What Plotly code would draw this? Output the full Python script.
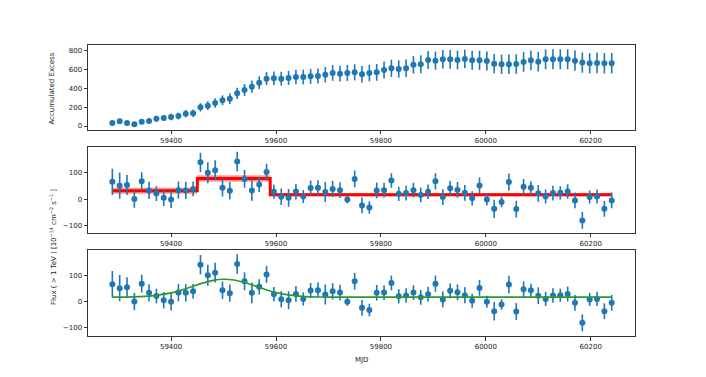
import plotly.graph_objects as go

# ---------------- data ----------------
mjd = [59288, 59302, 59316, 59330, 59344, 59358, 59372, 59386, 59400, 59414,
       59428, 59442, 59456, 59470, 59484, 59498, 59512, 59526, 59540, 59554,
       59568, 59582, 59596, 59610, 59624, 59638, 59652, 59666, 59680, 59694,
       59708, 59722, 59736, 59750, 59764, 59778, 59792, 59806, 59820, 59834,
       59848, 59862, 59876, 59890, 59904, 59918, 59932, 59946, 59960, 59974,
       59988, 60002, 60016, 60030, 60044, 60058, 60072, 60086, 60100, 60114,
       60128, 60142, 60156, 60170, 60184, 60198, 60212, 60226, 60240]

acc_excess = [32, 50, 32, 18, 46, 53, 78, 85, 96, 106,
              131, 135, 198, 216, 244, 273, 290, 347, 382, 418,
              460, 503, 506, 503, 510, 520, 520, 527, 531, 545,
              563, 556, 563, 570, 549, 563, 570, 595, 612, 605,
              612, 651, 655, 701, 694, 708, 708, 701, 712, 697,
              697, 690, 662, 655, 655, 658, 680, 697, 683, 708,
              708, 708, 708, 694, 673, 666, 669, 666, 666]

acc_err = [20, 22, 23, 24, 26, 28, 30, 32, 34, 36,
           38, 40, 45, 47, 50, 52, 55, 60, 62, 65,
           68, 70, 72, 73, 75, 76, 78, 79, 80, 82,
           83, 84, 85, 86, 87, 88, 89, 90, 91, 92,
           93, 94, 95, 96, 97, 98, 99, 100, 100, 101,
           101, 102, 102, 103, 103, 104, 104, 105, 105, 105,
           106, 106, 106, 107, 107, 107, 108, 108, 108]

flux = [66, 51, 54, 0, 68, 33, 21, 5, -1, 34,
        33, 39, 140, 100, 110, 43, 32, 143, 77, 33,
        56, 103, 28, 9, 5, 29, 10, 42, 43, 27,
        39, 34, -1, 77, -24, -32, 33, 34, 71, 20,
        23, 34, 16, 28, 68, 8, 41, 35, 24, 3,
        52, -1, -37, -11, 65, -38, 47, 43, 22, 10,
        23, 24, 29, -5, -81, 8, 10, -37, -5]

flux_err = [50, 50, 38, 33, 34, 33, 28, 31, 33, 33,
            33, 28, 37, 40, 38, 33, 33, 37, 34, 39,
            29, 32, 27, 31, 34, 30, 25, 29, 29, 38,
            31, 30, 15, 32, 30, 24, 30, 28, 28, 27,
            28, 28, 28, 28, 31, 30, 28, 30, 30, 27,
            30, 23, 35, 20, 33, 32, 30, 25, 32, 27,
            28, 25, 28, 30, 32, 25, 27, 30, 30]

# Bayesian-block style segments
block_start = [59288, 59450, 59589]
block_end = [59450, 59589, 60240]
block_value = [32, 79, 17]
block_low = [20, 66, 11]
block_high = [43, 91, 23]

# Fitted model curve
model_mjd = [59288, 59350, 59400, 59430, 59460, 59480, 59500, 59520, 59540,
             59570, 59600, 59650, 59700, 60240]
model_flux = [17, 19.5, 33, 50, 70, 80.5, 85, 82, 72.5, 52.5, 34, 19.5, 17, 17]

xticks = [59400, 59600, 59800, 60000, 60200]
xtick_labels = ["59400", "59600", "59800", "60000", "60200"]

BLUE = "#1f77b4"
FONT = "DejaVu Sans"
TXT = "#222222"

fig = go.Figure()


def points(ya, err, xa, yax):
    return go.Scatter(
        x=mjd, y=ya, mode="markers",
        marker=dict(color=BLUE, size=6),
        error_y=dict(type="data", array=err, visible=True, color=BLUE,
                     thickness=1.6, width=0),
        xaxis=xa, yaxis=yax, showlegend=False)


# top panel
fig.add_trace(points(acc_excess, acc_err, "x", "y"))

# middle panel: bands + step line + points
for s, e, lo, hi in zip(block_start, block_end, block_low, block_high):
    fig.add_trace(go.Scatter(
        x=[s, e, e, s, s], y=[lo, lo, hi, hi, lo], mode="lines",
        fill="toself", fillcolor="rgba(255,0,0,0.4)",
        line=dict(width=0), xaxis="x2", yaxis="y2", showlegend=False,
        hoverinfo="skip"))
step_x = block_start + [block_end[-1]]
step_y = block_value + [block_value[-1]]
fig.add_trace(go.Scatter(
    x=step_x, y=step_y, mode="lines", line=dict(color="red", width=3, shape="hv"),
    xaxis="x2", yaxis="y2", showlegend=False))
fig.add_trace(points(flux, flux_err, "x2", "y2"))

# bottom panel
fig.add_trace(points(flux, flux_err, "x3", "y3"))
fig.add_trace(go.Scatter(
    x=model_mjd, y=model_flux, mode="lines",
    line=dict(color="#2a9a2a", width=1.6, shape="spline", smoothing=1.0),
    xaxis="x3", yaxis="y3", showlegend=False))

axis_common = dict(
    showline=True, linecolor="#333333", linewidth=1, mirror=True,
    ticks="outside", ticklen=3.5, tickwidth=0.8, tickcolor="#333333",
    showgrid=False, zeroline=False, automargin=False,
    tickfont=dict(family=FONT, size=7, color=TXT))

xr = [59241.6, 60284.4]
xax = dict(domain=[0, 1], range=xr, tickvals=xticks, ticktext=xtick_labels, **axis_common)
fig.update_layout(
    width=706, height=377,
    margin=dict(l=88, r=71, t=45, b=41),
    paper_bgcolor="white", plot_bgcolor="white",
    font=dict(family=FONT, size=7, color=TXT),
    xaxis=dict(anchor="y", **xax),
    yaxis=dict(domain=[0.708, 1.0], range=[-42, 860],
               tickvals=[0, 200, 400, 600, 800], anchor="x", **axis_common),
    xaxis2=dict(anchor="y2", **xax),
    yaxis2=dict(domain=[0.354, 0.649], range=[-129, 198],
                tickvals=[-100, 0, 100], anchor="x2", **axis_common),
    xaxis3=dict(anchor="y3", **xax),
    yaxis3=dict(domain=[0, 0.2955], range=[-131, 196],
                tickvals=[-100, 0, 100], anchor="x3", **axis_common),
    annotations=[
        dict(text="Accumulated Excess", x=-0.066, y=0.85, xref="paper", yref="paper",
             xanchor="center", yanchor="middle",
             textangle=-90, showarrow=False, font=dict(family=FONT, size=7, color=TXT)),
        dict(text="Flux ( > 1 TeV ) [10<sup>−14</sup> cm<sup>−2</sup> s<sup>−1</sup> ]",
             x=-0.064, y=0.306, xref="paper", yref="paper",
             xanchor="center", yanchor="middle",
             textangle=-90, showarrow=False, font=dict(family=FONT, size=7, color=TXT)),
        dict(text="MJD", x=0.5, y=-0.062, xref="paper", yref="paper",
             xanchor="center", yanchor="top",
             showarrow=False, font=dict(family=FONT, size=7, color=TXT)),
    ],
)

fig.write_html("out.html", config={"displayModeBar": False},
               post_script="document.body.style.margin='0';")
